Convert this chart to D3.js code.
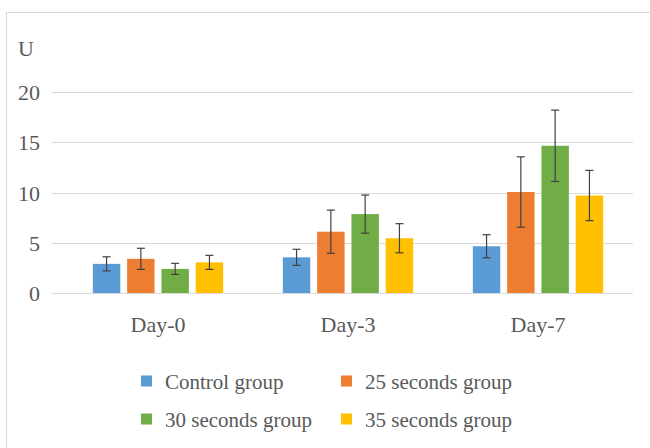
<!DOCTYPE html>
<html>
<head>
<meta charset="utf-8">
<script src="https://cdn.jsdelivr.net/npm/d3@7"></script>
<style>
  body { margin: 0; background: #fff; }
</style>
</head>
<body>
<div id="container"></div>
<script>
let w = 650;
let h = 448;

// data
let days = ["Day-0", "Day-3", "Day-7"];
let groups = ["Control group", "25 seconds group", "30 seconds group", "35 seconds group"];
let colors = ["#5B9BD5", "#ED7D31", "#70AD47", "#FFC000"];
let means = [
  [2.9, 3.4, 2.4, 3.05],   // Day-0
  [3.55, 6.1, 7.85, 5.45], // Day-3
  [4.65, 10.05, 14.65, 9.7] // Day-7
];
let errs = [
  [0.7, 1.05, 0.55, 0.7],
  [0.8, 2.15, 1.9, 1.45],
  [1.15, 3.5, 3.55, 2.5]
];
let yTicks = [0, 5, 10, 15, 20];

let textColor = "#595959";
let serif = "'Liberation Serif'";

let viz = d3.select("#container")
  .append("svg")
    .attr("width", w)
    .attr("height", h)
;

// chart frame
viz.append("rect")
  .attr("x", 6.5).attr("y", 12.5)
  .attr("width", 660).attr("height", 460)
  .attr("fill", "none")
  .attr("stroke", "#d9d9d9");

let xScale = d3.scaleBand().domain(days).range([63, 633]);
let xInner = d3.scaleBand().domain(groups).range([0, xScale.bandwidth()]).paddingInner(0.2).paddingOuter(0.87);
let yScale = d3.scaleLinear().domain([0, 20]).range([293, 92]);

// gridlines
viz.selectAll(".grid").data(yTicks).enter()
  .append("line")
    .attr("x1", 52).attr("x2", 633)
    .attr("y1", d => Math.round(yScale(d)) + 0.5)
    .attr("y2", d => Math.round(yScale(d)) + 0.5)
    .attr("stroke", "#d9d9d9")
    .attr("stroke-width", 1.2);

// y labels
viz.selectAll(".ylab").data(yTicks).enter()
  .append("text")
    .attr("x", 40)
    .attr("y", d => yScale(d) + 8)
    .attr("text-anchor", "end")
    .style("font-family", serif)
    .style("fill", textColor)
    .style("font-size", "22px")
    .text(d => d);

viz.append("text")
  .attr("x", 18).attr("y", 56)
  .style("font-family", serif)
  .style("fill", textColor)
  .style("font-size", "22px")
  .text("U");

// bars
let rows = [];
days.forEach(function(day, i){
  groups.forEach(function(g, j){
    rows.push({day: day, group: g, color: colors[j], v: means[i][j], e: errs[i][j]});
  });
});

function barX(d){ return xScale(d.day) + xInner(d.group); }

let datagroups = viz.selectAll(".datagroup").data(rows).enter()
  .append("g")
    .classed("datagroup", true);

datagroups.append("rect")
  .attr("x", barX)
  .attr("y", d => yScale(d.v))
  .attr("width", xInner.bandwidth())
  .attr("height", d => yScale(0) - yScale(d.v))
  .attr("fill", d => d.color);

let cx = d => barX(d) + xInner.bandwidth() / 2;
datagroups.append("line")
  .attr("x1", cx).attr("x2", cx)
  .attr("y1", d => yScale(d.v + d.e))
  .attr("y2", d => yScale(d.v - d.e))
  .attr("stroke", "#404040").attr("stroke-width", 1.2);
datagroups.append("line")
  .attr("x1", d => cx(d) - 4).attr("x2", d => cx(d) + 4)
  .attr("y1", d => yScale(d.v + d.e)).attr("y2", d => yScale(d.v + d.e))
  .attr("stroke", "#404040").attr("stroke-width", 1.2);
datagroups.append("line")
  .attr("x1", d => cx(d) - 4).attr("x2", d => cx(d) + 4)
  .attr("y1", d => yScale(d.v - d.e)).attr("y2", d => yScale(d.v - d.e))
  .attr("stroke", "#404040").attr("stroke-width", 1.2);

// x labels
viz.selectAll(".xlab").data(days).enter()
  .append("text")
    .attr("x", d => xScale(d) + xScale.bandwidth() / 2)
    .attr("y", 332)
    .attr("text-anchor", "middle")
    .style("font-family", serif)
    .style("fill", textColor)
    .style("font-size", "22px")
    .text(d => d);

// legend
let legX = [141, 341];
let legY = [381, 419];
let legend = viz.selectAll(".leg").data(groups).enter()
  .append("g")
    .attr("transform", (d, i) => "translate(" + legX[i % 2] + "," + legY[Math.floor(i / 2)] + ")");
legend.append("rect")
  .attr("x", 0).attr("y", -5.5)
  .attr("width", 11).attr("height", 11)
  .attr("fill", (d, i) => colors[i]);
legend.append("text")
  .attr("x", 24).attr("y", 7.5)
  .style("font-family", serif)
  .style("fill", textColor)
  .style("font-size", "21px")
  .text(d => d);
</script>
</body>
</html>
